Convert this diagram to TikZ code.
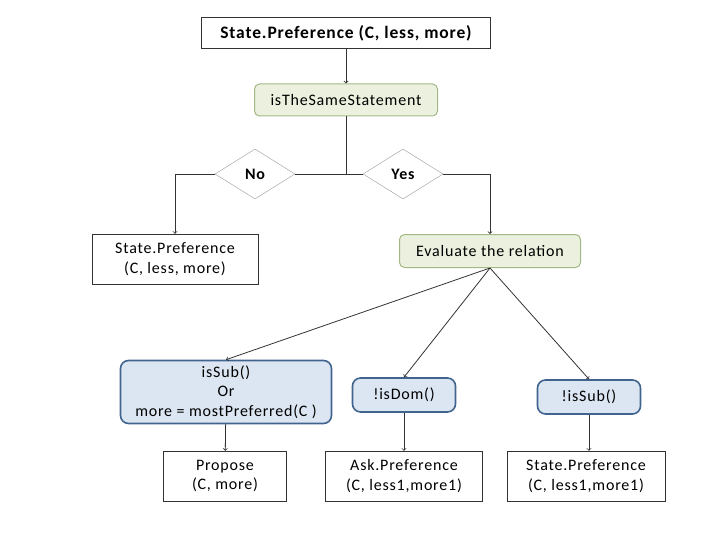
\documentclass[tikz,border=0pt]{standalone}
\usepackage{fontspec}
\setmainfont[LetterSpace=5]{Carlito}
\usepackage{tikz}
\tikzset{>=to}
\usetikzlibrary{shapes.geometric}
\definecolor{greenfill}{HTML}{EBF1DE}
\definecolor{greenline}{HTML}{A3B985}
\definecolor{bluefill}{HTML}{DCE6F2}
\definecolor{blueline}{HTML}{41648F}
\tikzset{
    plainbox/.style={draw=black!80, fill=white, align=center, inner sep=0pt},
    greenbox/.style={draw=greenline, fill=greenfill, line width=1pt, rounded corners=5pt, inner sep=0pt},
    bluebox/.style={draw=blueline, fill=bluefill, line width=1.6pt, rounded corners=8pt, align=center, inner sep=0pt},
    choice/.style={diamond, draw=black!40, fill=white, inner sep=0pt, minimum width=80pt, minimum height=50pt, font=\fontsize{16}{20}\selectfont\bfseries},
    link/.style={black!80, line width=0.8pt}
}

\begin{document}
\begin{tikzpicture}[x=1pt, y=-1pt, font=\fontsize{16}{19.5}\selectfont]
    \useasboundingbox(0, 0) rectangle (720, 540);
    \node[plainbox, minimum width=289pt, minimum height=31pt, font=\fontsize{17.5}{20}\selectfont\bfseries](top) at (346, 33){State.Preference (C, less, more)};
    \node[greenbox, minimum width=183pt, minimum height=32pt](same) at (346, 100){isTheSameStatement};
    \node[choice](no) at (255, 174){No};
    \node[choice](yes) at (403, 174){Yes};
    \coordinate(split) at (346, 174);
    \node[plainbox, minimum width=166pt, minimum height=50pt](keep) at (175, 259){State.Preference\\(C, less, more)};
    \node[greenbox, minimum width=181pt, minimum height=33pt](eval) at (490, 251){Evaluate the relation};
    \node[bluebox, minimum width=211pt, minimum height=63pt](sub) at (226, 392){isSub()\\Or\\more = mostPreferred(C )};
    \node[bluebox, minimum width=103pt, minimum height=34pt](dom) at (404, 395){!isDom()};
    \node[bluebox, minimum width=103pt, minimum height=34pt](notsub) at (589, 397){!isSub()};
    \node[plainbox, minimum width=123pt, minimum height=50pt](propose) at (225, 476){Propose\\(C, more)};
    \node[plainbox, minimum width=157pt, minimum height=50pt](ask) at (404, 476){Ask.Preference\\(C, less1,more1)};
    \node[plainbox, minimum width=158pt, minimum height=50pt](state) at (586, 476){State.Preference\\(C, less1,more1)};

    \draw[link, ->](top)--(same);
    \draw[link](same)--(split);
    \draw[link](no.east)--(yes.west);
    \draw[link, ->](no.west)-|(keep.north);
    \draw[link, ->](yes.east)-|(eval.north);
    \draw[link, ->](eval.south)--(sub.north);
    \draw[link, ->](eval.south)--(dom.north);
    \draw[link, ->](eval.south)--(notsub.north);
    \draw[link, ->](sub)--(propose);
    \draw[link, ->](dom)--(ask);
    \draw[link, ->](notsub)--(state.north-|notsub);
\end{tikzpicture}
\end{document}
